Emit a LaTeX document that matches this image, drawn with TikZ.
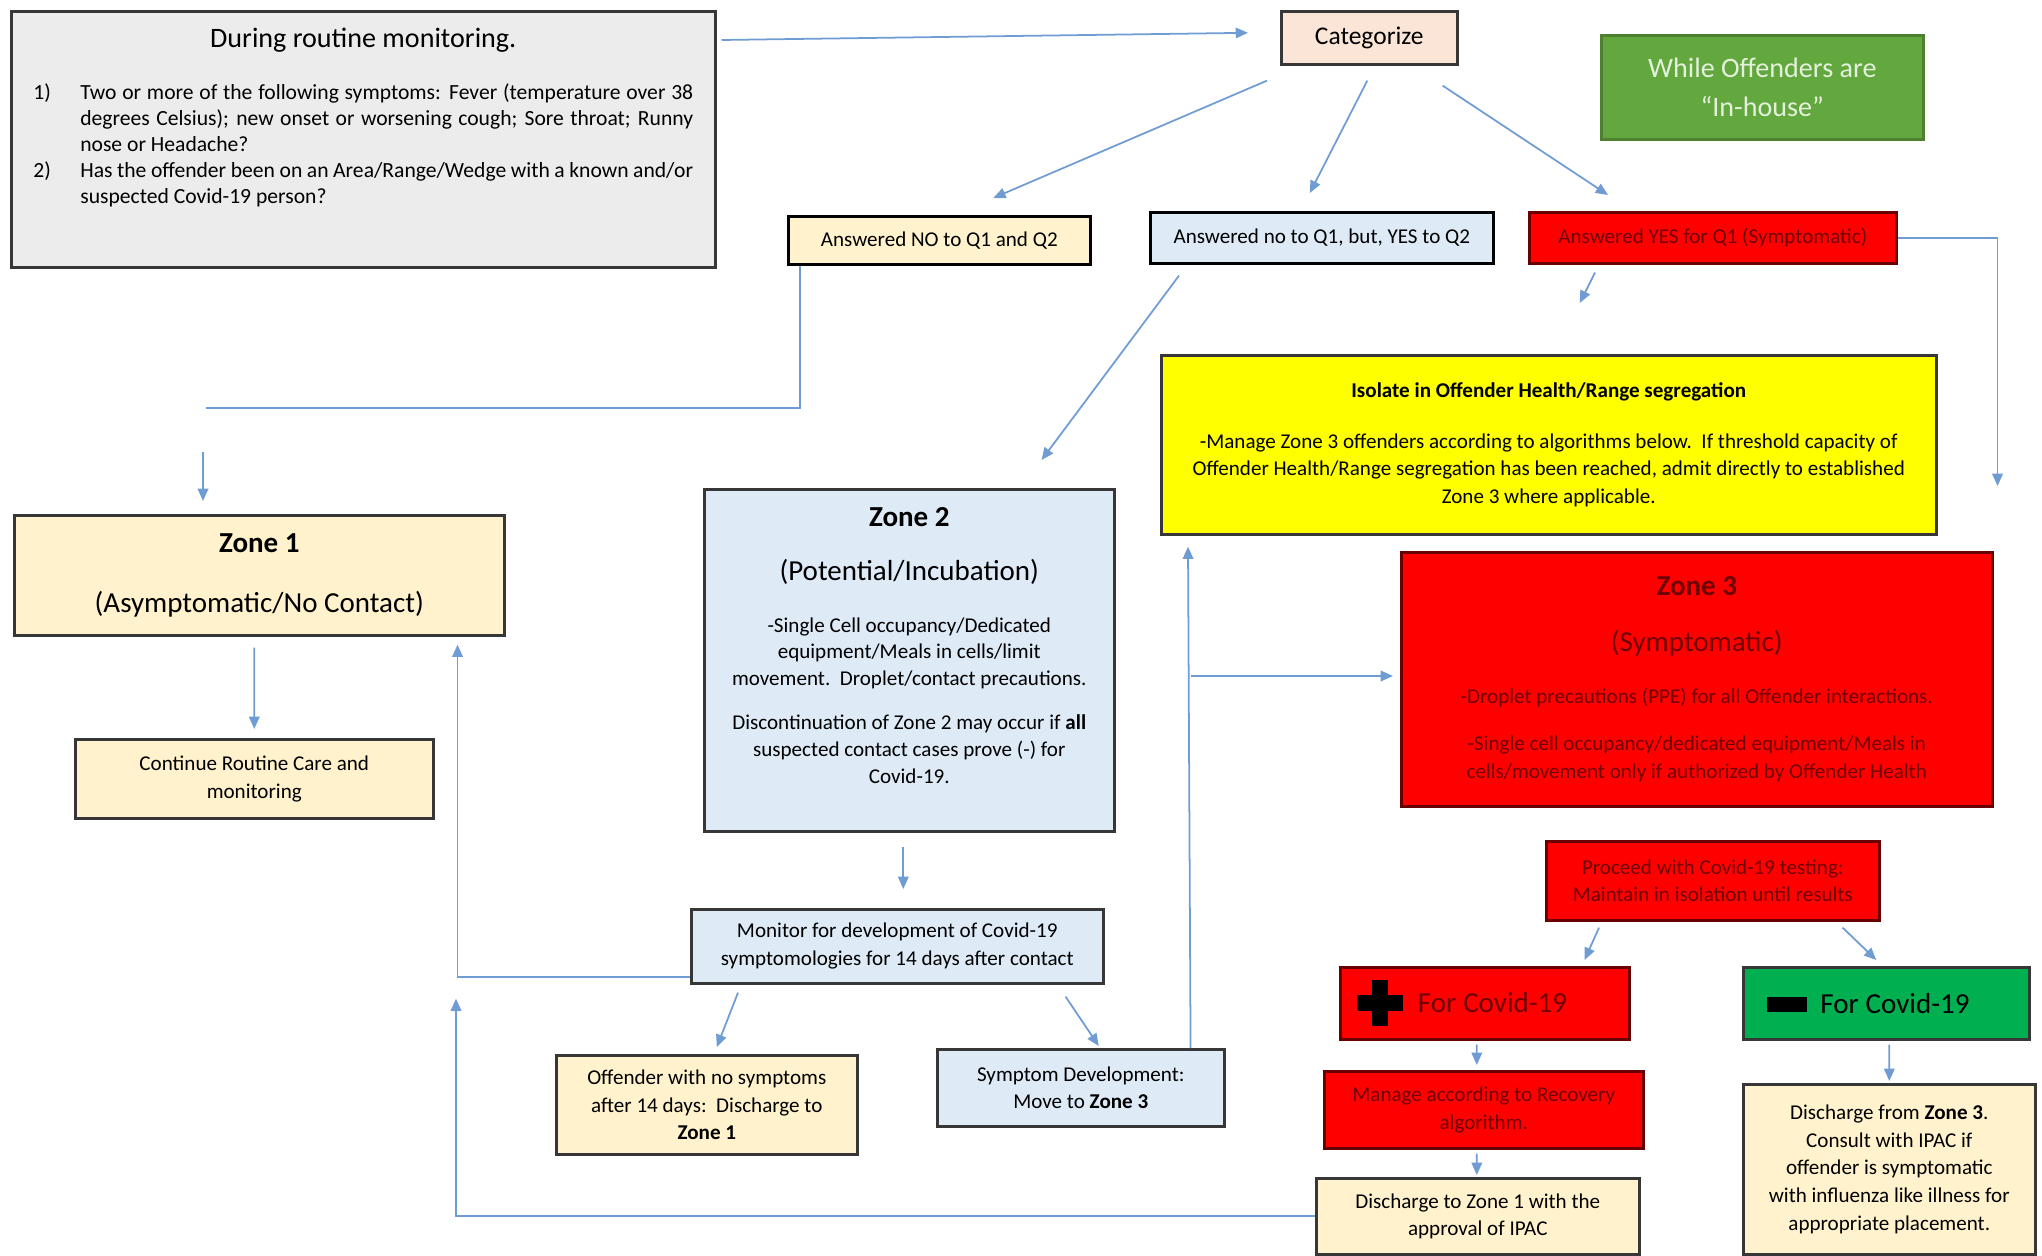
\documentclass[tikz,border=0pt]{standalone}
\usepackage{fontspec}
\setmainfont{Carlito}
\usepackage{tikz}
\usetikzlibrary{arrows.meta,calc}
\definecolor{LineBlue}{RGB}{112,156,212}
\definecolor{BoxDark}{RGB}{55,55,55}
\definecolor{GreyFill}{RGB}{236,236,236}
\definecolor{PeachFill}{RGB}{251,229,214}
\definecolor{CreamFill}{RGB}{255,242,204}
\definecolor{SkyFill}{RGB}{222,235,247}
\definecolor{AlertRed}{RGB}{255,0,0}
\definecolor{AlertEdge}{RGB}{105,0,0}
\definecolor{AlertText}{RGB}{110,0,0}
\definecolor{IsoYellow}{RGB}{255,255,0}
\definecolor{HouseGreen}{RGB}{98,168,62}
\definecolor{HouseEdge}{RGB}{78,128,48}
\definecolor{HouseText}{RGB}{228,240,220}
\definecolor{NegGreen}{RGB}{0,176,80}
\newcommand{\bodyfont}{\fontsize{12}{15.8}\selectfont}
\newcommand{\headfont}{\fontsize{16.5}{19.8}\selectfont}
\newcommand{\plusmark}{\textcolor{black}{\rule[0.5pt]{26pt}{9pt}\hspace{-17.5pt}\rule[-8pt]{9pt}{26pt}\hspace{8.5pt}}}
\newcommand{\minusmark}{\textcolor{black}{\rule[1pt]{22.8pt}{8.5pt}}}
\tikzset{
  base/.style={rectangle, draw=BoxDark, line width=1.5pt, anchor=north west,
    align=center, font=\bodyfont, inner sep=2pt},
  boxsize/.style 2 args={minimum width=#1cm, minimum height=#2cm},
  greybox/.style={base, fill=GreyFill},
  peachbox/.style={base, fill=PeachFill},
  creambox/.style={base, fill=CreamFill},
  skybox/.style={base, fill=SkyFill},
  redbox/.style={base, fill=AlertRed, draw=AlertEdge, text=AlertText},
  yellowbox/.style={base, fill=IsoYellow},
  housebox/.style={base, fill=HouseGreen, draw=HouseEdge, text=HouseText},
  negbox/.style={base, fill=NegGreen, draw=BoxDark},
  arrow/.style={-{Triangle[length=7pt,width=6pt]}, line width=1pt, draw=LineBlue},
  link/.style={line width=1pt, draw=LineBlue}
}
\begin{document}
\begin{tikzpicture}[x=0.02cm, y=-0.02cm]
  \useasboundingbox (0,0) rectangle (2042,1256);
  \node[greybox, boxsize={14.08}{5.12}, align=justify, text width=13.2cm, inner xsep=0.44cm,
    font=\fontsize{12.3}{14.8}\selectfont] (routine) at (10,10) {%
    {\centering\fontsize{16}{19}\selectfont During routine monitoring.\par}\vspace{15pt}
    \hangindent=0.94cm\hangafter=1\noindent\makebox[0.94cm][l]{1)}Two or more of the following symptoms: Fever (temperature over 38\linebreak degrees Celsius); new onset or worsening cough; Sore throat; Runny\linebreak nose or Headache?\par
    \hangindent=0.94cm\hangafter=1\noindent\makebox[0.94cm][l]{2)}Has the offender been on an Area/Range/Wedge with a known and/or\linebreak suspected Covid-19 person?\par
    \vspace*{12pt}\mbox{}};
  \node[peachbox, boxsize={3.52}{1.06}, font=\fontsize{14.5}{17}\selectfont] (cat) at (1280,10) {Categorize};
  \node[housebox, boxsize={6.44}{2.08}, font=\fontsize{16}{22}\selectfont] (house) at (1600,34) {While Offenders are\\“In-house”};
  \node[creambox, boxsize={6.04}{0.96}, draw=black] (ansno) at (787,215) {Answered NO to Q1 and Q2};
  \node[skybox, boxsize={6.86}{1.02}, draw=black] (ansq2) at (1149,211) {Answered no to Q1, but, YES to Q2};
  \node[redbox, boxsize={7.34}{1.02}] (ansyes) at (1528,211) {Answered YES for Q1 (Symptomatic)};
  \node[yellowbox, boxsize={15.5}{3.58}] (isolate) at (1160,354) {%
    \textbf{Isolate in Offender Health/Range segregation}\\[13pt]
    -Manage Zone 3 offenders according to algorithms below.\ \ If threshold capacity of\\
    Offender Health/Range segregation has been reached, admit directly to established\\
    Zone 3 where applicable.};
  \node[redbox, boxsize={11.82}{5.08}] (zthree) at (1400,551) {%
    {\headfont\bfseries Zone 3}\\[16pt]
    {\headfont (Symptomatic)}\\[14pt]
    -Droplet precautions (PPE) for all Offender interactions.\\[11pt]
    -Single cell occupancy/dedicated equipment/Meals in\\
    cells/movement only if authorized by Offender Health};
  \node[creambox, boxsize={9.8}{2.4}] (zone1) at (13,514) {%
    {\headfont\bfseries Zone 1}\\[18pt]
    {\headfont (Asymptomatic/No Contact)}};
  \node[creambox, boxsize={7.16}{1.58}] (careone) at (74,738) {Continue Routine Care and\\monitoring};
  \node[skybox, boxsize={8.2}{6.84}, font=\fontsize{12}{15.2}\selectfont] (ztwo) at (703,488) {%
    {\headfont\bfseries Zone 2}\\[16pt]
    {\headfont (Potential/Incubation)}\\[14pt]
    -Single Cell occupancy/Dedicated\\
    equipment/Meals in cells/limit\\
    movement.\ \ Droplet/contact precautions.\\[10pt]
    Discontinuation of Zone 2 may occur if \textbf{all}\\
    suspected contact cases prove (-) for\\
    Covid-19.\\[2pt]\mbox{}};
  \node[skybox, boxsize={8.24}{1.48}] (monitor) at (690,908) {Monitor for development of Covid-19\\symptomologies for 14 days after contact};
  \node[creambox, boxsize={6.02}{1.98}] (nosym) at (555,1054) {Offender with no symptoms\\after 14 days:\ \ Discharge to\\\textbf{Zone 1}};
  \node[skybox, boxsize={5.74}{1.54}] (symdev) at (936,1048) {Symptom Development:\\Move to \textbf{Zone 3}};
  \node[redbox, boxsize={6.66}{1.58}] (testing) at (1545,840) {Proceed with Covid-19 testing:\\Maintain in isolation until results};
  \node[redbox, boxsize={5.78}{1.44}, align=left, text width=5.1cm, inner xsep=0.34cm] (pos) at (1339,966) {\plusmark\hspace{8.5pt}{\headfont For Covid-19}};
  \node[negbox, boxsize={5.72}{1.44}, align=left, text width=4.76cm, inner xsep=0.48cm] (neg) at (1742,966) {\minusmark\hspace{7.4pt}{\headfont For Covid-19}};
  \node[redbox, boxsize={6.38}{1.54}] (recover) at (1323,1070) {Manage according to Recovery\\algorithm.};
  \node[creambox, boxsize={6.46}{1.52}] (dischone) at (1315,1177) {Discharge to Zone 1 with the\\approval of IPAC};
  \node[creambox, boxsize={5.84}{3.4}] (dischthree) at (1742,1083) {Discharge from \textbf{Zone 3}.\\Consult with IPAC if\\offender is symptomatic\\with influenza like illness for\\appropriate placement.};

  \coordinate (nobend) at (206,408);
  \coordinate (zoneonedrop) at (203,452);
  \coordinate (branch) at ($(symdev.north east)+(-35,-372)$);

  \draw[arrow] ($(routine.north east)+(5,30)$) -- ($(cat.west)+(-32,-5)$);
  \draw[arrow] ($(cat.south west)+(-13,15)$) -- ($(ansno.north)+(54,-17)$);
  \draw[arrow] ($(cat.south)+(-2,15)$) -- ($(ansq2.north)+(-12,-18)$);
  \draw[arrow] ($(cat.south east)+(-16,20)$) -- ($(ansyes.north west)+(80,-16)$);
  \draw[link] ($(ansno.south west)+(13,0)$) |- (nobend);
  \draw[arrow] (zoneonedrop) -- ($(zone1.north west)+(190,-13)$);
  \draw[arrow] ($(ansq2.south west)+(30,11)$) -- ($(ztwo.north east)+(-74,-28)$);
  \draw[arrow] ($(ansyes.south west)+(67,8)$) -- ($(isolate.north)+(31,-51)$);
  \draw[arrow] (ansyes.east) -| ($(zthree.north east)+(4,-65)$);
  \draw[arrow] ($(zone1.south)+(-5,11)$) -- ($(careone.north)+(0,-9)$);
  \draw[arrow] ($(ztwo.south)+(-6,14)$) -- ($(monitor.north)+(6,-19)$);
  \draw[arrow] ($(monitor.south west)+(0,-8)$) -| ($(zone1.south east)+(-48,8)$);
  \draw[arrow] ($(monitor.south west)+(48,8)$) -- ($(nosym.north)+(10,-7)$);
  \draw[arrow] ($(monitor.south east)+(-39,12)$) -- ($(symdev.north)+(18,-2)$);
  \draw[arrow] ($(symdev.north east)+(-35,0)$) -- ($(isolate.south west)+(28,11)$);
  \draw[arrow, shorten >=4pt] (branch) -- (branch -| zthree.west);
  \draw[arrow] (dischone.west) -| ($(monitor.south west)+(-234,14)$);
  \draw[arrow] ($(testing.south west)+(54,6)$) -- ($(pos.north east)+(-46,-6)$);
  \draw[arrow] ($(testing.south east)+(-38,6)$) -- ($(neg.north)+(-10,-6)$);
  \draw[arrow] ($(pos.south)+(-8,4)$) -- ($(recover.north)+(-7,-5)$);
  \draw[arrow] ($(recover.south)+(-7,4)$) -- ($(dischone.north)+(-1,-2)$);
  \draw[arrow] ($(neg.south)+(3,4)$) -- ($(dischthree.north)+(0,-2)$);
\end{tikzpicture}
\end{document}
